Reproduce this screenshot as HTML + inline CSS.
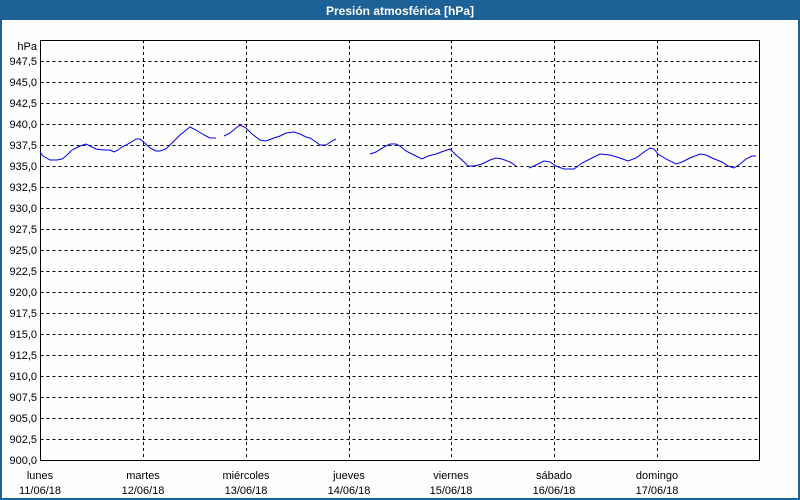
<!DOCTYPE html>
<html><head><meta charset="utf-8"><style>
body{margin:0;background:#fff;}
svg{display:block;font-family:"Liberation Sans","DejaVu Sans",sans-serif;}
</style></head><body>
<svg width="800" height="500" viewBox="0 0 800 500">
<rect x="0" y="0" width="800" height="500" fill="#1d6296"/>
<rect x="2" y="20" width="796" height="478" fill="#fdfefd"/>
<text x="400" y="15" text-anchor="middle" font-size="12" font-weight="bold" fill="#fff">Presión atmosférica [hPa]</text>
<g stroke="#000" stroke-width="1" stroke-dasharray="3,3" fill="none">
<path d="M40.5 61.5H760 M40.5 82.5H760 M40.5 103.5H760 M40.5 124.5H760 M40.5 145.5H760 M40.5 166.5H760 M40.5 187.5H760 M40.5 208.5H760 M40.5 229.5H760 M40.5 250.5H760 M40.5 271.5H760 M40.5 292.5H760 M40.5 313.5H760 M40.5 334.5H760 M40.5 355.5H760 M40.5 376.5H760 M40.5 397.5H760 M40.5 418.5H760 M40.5 439.5H760"/>
<path d="M143.5 40V460 M246.5 40V460 M349.5 40V460 M451.5 40V460 M554.5 40V460 M657.5 40V460"/>
</g>
<rect x="40.5" y="40.5" width="719" height="420" fill="none" stroke="#000"/>
<g fill="none" stroke="#0000ee" stroke-width="1">
<polyline points="40,152 43,156 50,160 57,160 62,159 66,156 72,150 80,146 86,144 90,146 96,149 104,150 110,150 114,152 118,150 122,147 130,143 136,139 140,139 146,144 150,148 156,151 160,151 166,149 172,143 180,135 190,127 196,130 204,135 210,138 216,138"/>
<polyline points="224,136 230,133 236,128 240,125 246,128 252,134 260,140 266,141 274,138 280,136 286,133 294,132 300,134 306,137 310,138 316,142 320,145 326,145 332,141 336,139"/>
<polyline points="370,154 376,152 384,147 390,144 396,144 400,146 406,151 414,155 422,159 428,156 436,154 444,151 450,149 456,155 462,160 468,166 474,166 482,164 490,160 496,158 502,159 510,162 516,166"/>
<polyline points="529,168 536,165 544,161 550,162 556,166 564,169 574,169 582,163 590,159 600,154 610,155 620,158 628,161 636,158 644,152 650,148 654,149 658,154 666,159 676,164 682,162 690,158 700,154 706,155 712,158 722,162 728,166 734,168 740,164 746,159 752,156 756,156"/>
</g>
<g font-size="11" fill="#000" text-anchor="end">
<text x="37" y="50">hPa</text>
<text x="37" y="65">947,5</text><text x="37" y="86">945,0</text><text x="37" y="107">942,5</text><text x="37" y="128">940,0</text><text x="37" y="149">937,5</text><text x="37" y="170">935,0</text><text x="37" y="191">932,5</text><text x="37" y="212">930,0</text><text x="37" y="233">927,5</text><text x="37" y="254">925,0</text><text x="37" y="275">922,5</text><text x="37" y="296">920,0</text><text x="37" y="317">917,5</text><text x="37" y="338">915,0</text><text x="37" y="359">912,5</text><text x="37" y="380">910,0</text><text x="37" y="401">907,5</text><text x="37" y="422">905,0</text><text x="37" y="443">902,5</text><text x="37" y="464">900,0</text>
</g>
<g font-size="11" fill="#000" text-anchor="middle">
<text x="40" y="479">lunes</text><text x="40" y="494">11/06/18</text>
<text x="143" y="479">martes</text><text x="143" y="494">12/06/18</text>
<text x="246" y="479">miércoles</text><text x="246" y="494">13/06/18</text>
<text x="349" y="479">jueves</text><text x="349" y="494">14/06/18</text>
<text x="451" y="479">viernes</text><text x="451" y="494">15/06/18</text>
<text x="554" y="479">sábado</text><text x="554" y="494">16/06/18</text>
<text x="657" y="479">domingo</text><text x="657" y="494">17/06/18</text>
</g>
</svg>
</body></html>
